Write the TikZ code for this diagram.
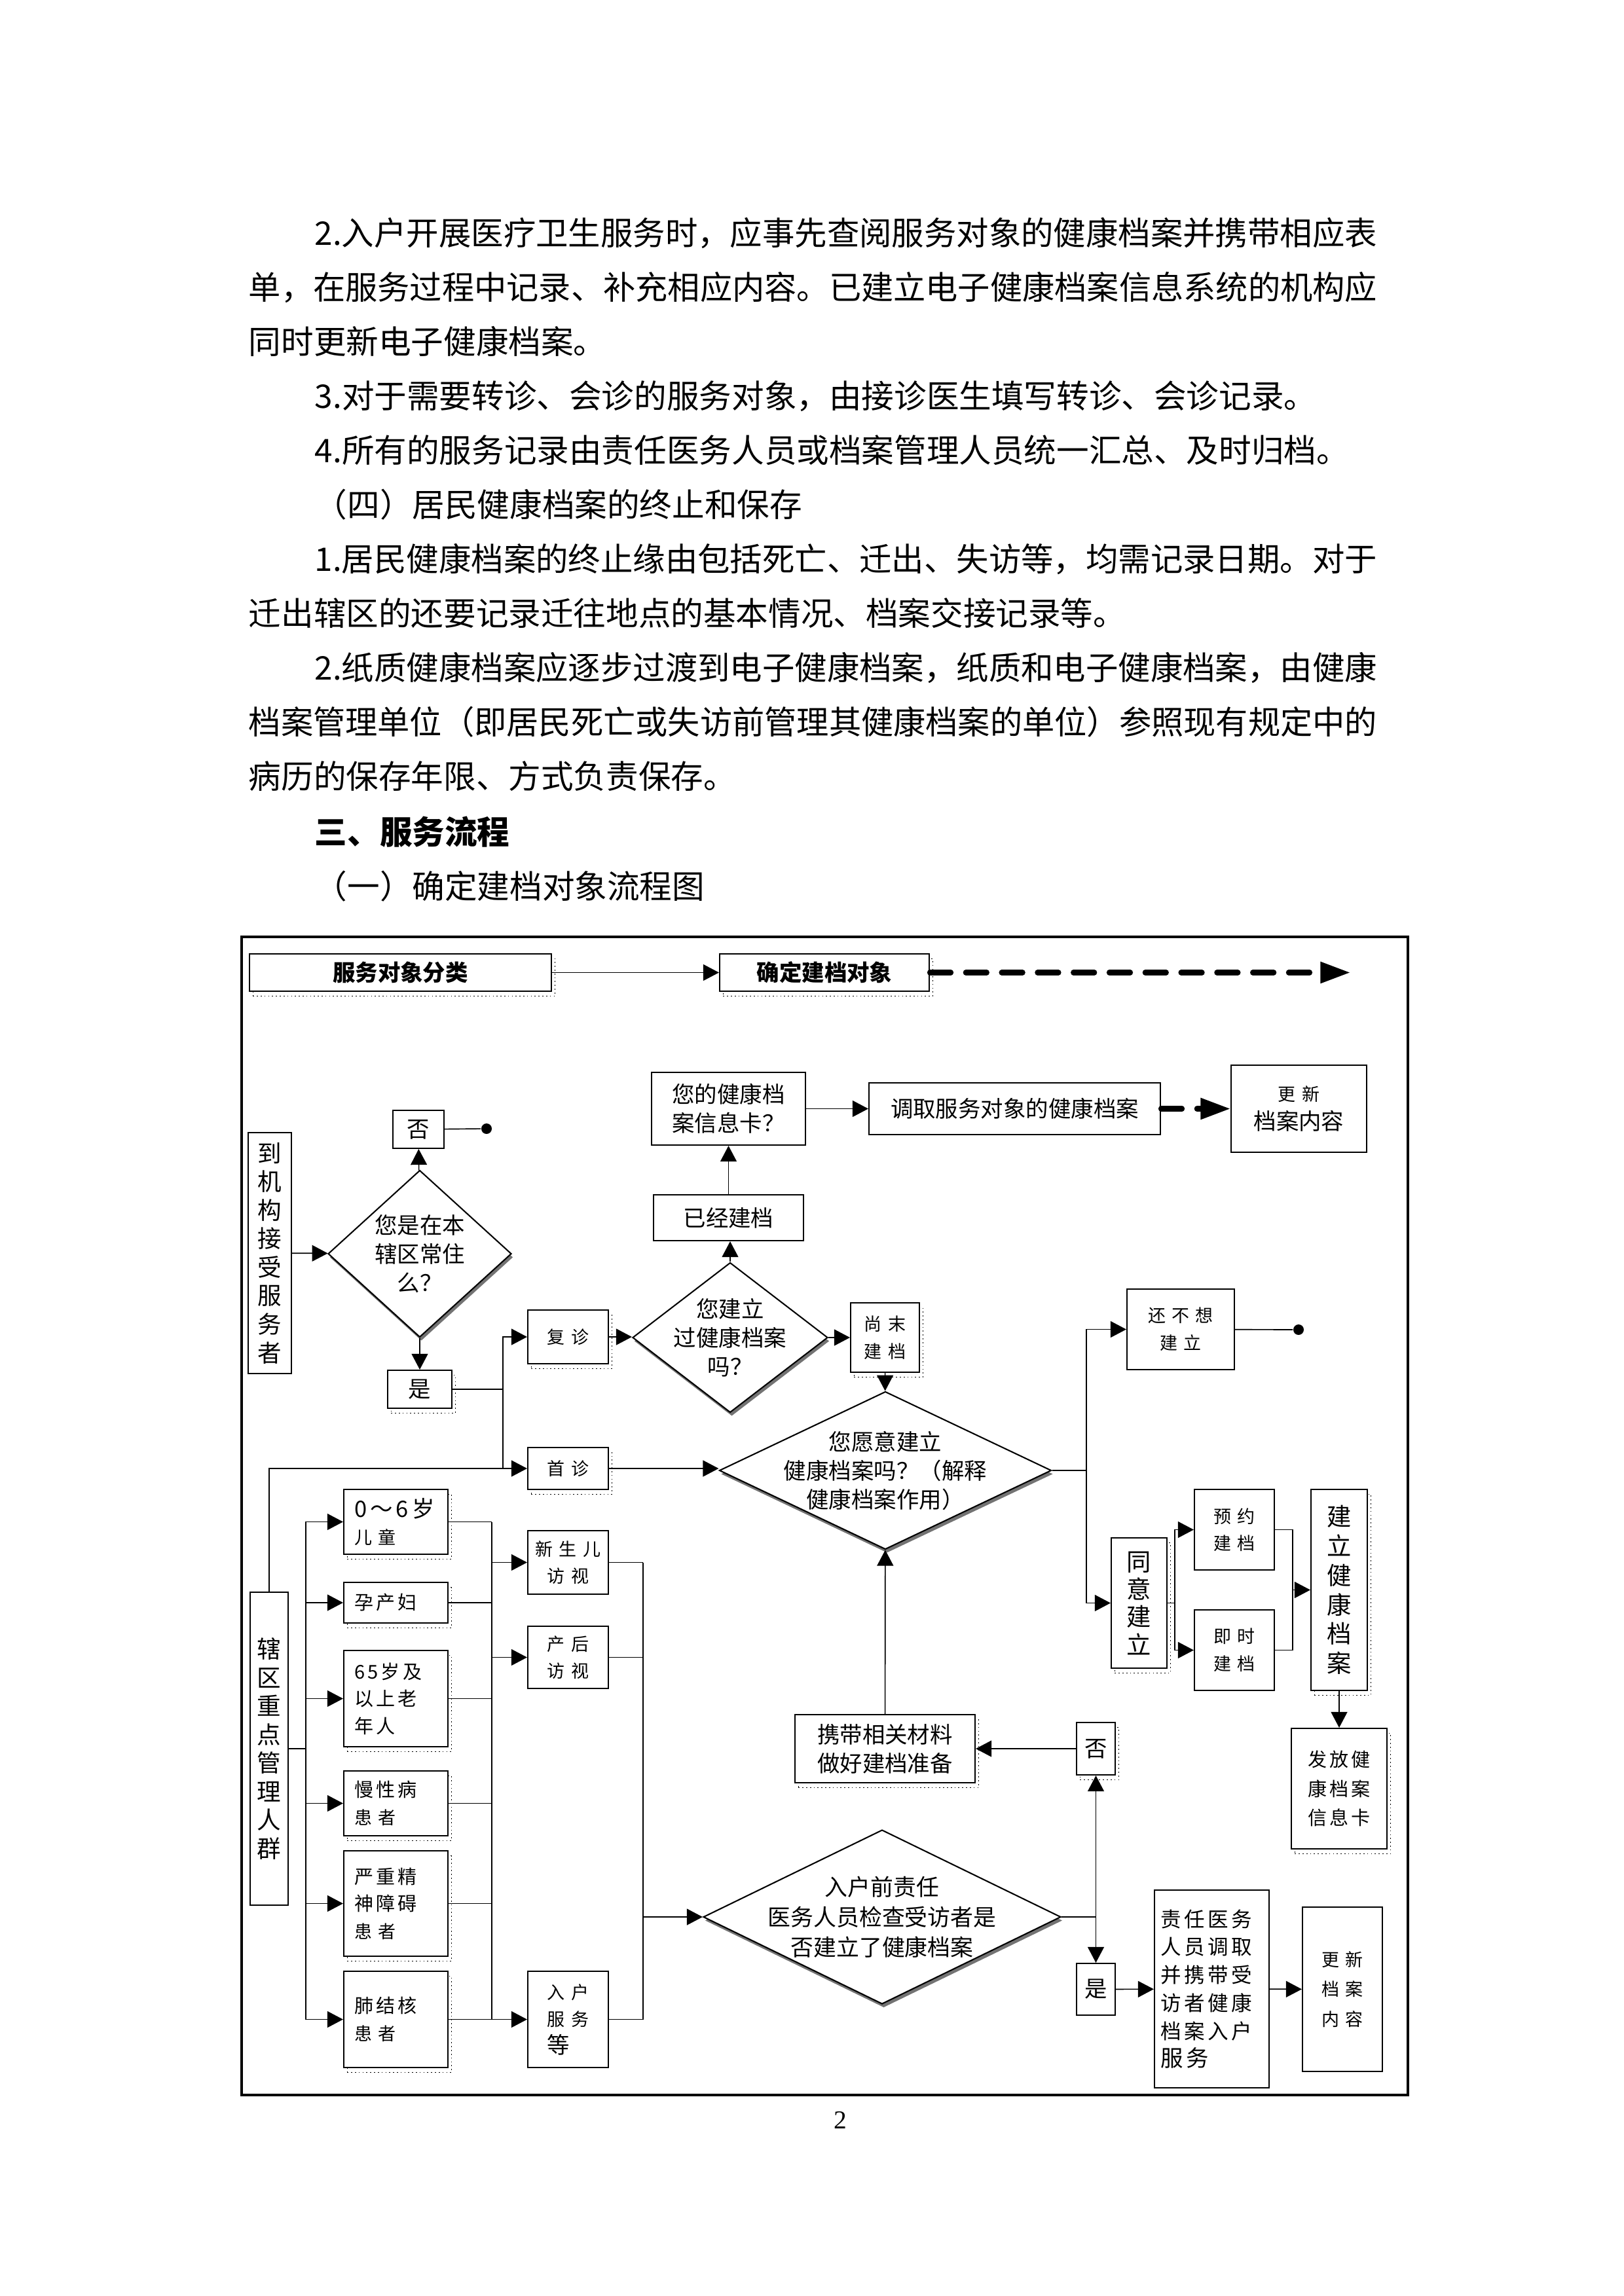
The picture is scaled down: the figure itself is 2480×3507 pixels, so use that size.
\documentclass[tikz,border=0pt]{standalone}
\usepackage{graphicx}
\usepackage{fontspec}
\setmainfont{Noto Sans CJK SC}
\newfontfamily\cjkwide[LetterSpace=35]{Noto Sans CJK SC}
\newfontfamily\cjkmid[LetterSpace=15]{Noto Sans CJK SC}
\newfontfamily\pagenum{Liberation Serif}
\usetikzlibrary{shapes.geometric, arrows.meta, shadows}
\newlength{\pxu}
\setlength{\pxu}{0.084677mm}
\newcommand\bodyfont{\fontsize{11.95pt}{12pt}\selectfont}
\newcommand\fsbig{\fontsize{8.3pt}{10.6pt}\selectfont}
\newcommand\fsvert{\fontsize{8.8pt}{10.5pt}\selectfont}
\newcommand\fssmall{\cjkwide\fontsize{6.5pt}{10pt}\selectfont}
\newcommand\fsmid{\cjkmid\fontsize{7pt}{10pt}\selectfont}
% justified line of given width in px
\newcommand\jline[2]{\resizebox{#1\pxu}{\height}{#2}}
\tikzset{
  wh/.style 2 args={minimum width=#1*\pxu, minimum height=#2*\pxu},
  box/.style={draw, fill=white, line width=0.5pt, inner sep=0pt,
    align=center, font=\fsbig},
  sbox/.style={box, drop shadow={shadow xshift=1.3pt, shadow yshift=-1.8pt,
    fill=none, draw=black, densely dotted, line width=0.4pt, opacity=1}},
  lbox/.style={sbox, font=\fsmid, align=left, text width=127*\pxu,
    inner xsep=16*\pxu, minimum height=#1*\pxu},
  dia/.style={diamond, draw, fill=white, line width=0.5pt, inner sep=0pt,
    drop shadow={shadow xshift=0.6pt, shadow yshift=-1.3pt,
    fill=black!55, opacity=1}},
  diatext/.style={align=center, font=\fsbig, inner sep=0pt},
  arr/.style={-{Triangle[length=5.8pt,width=6pt]}, line width=0.4pt},
  ln/.style={line width=0.4pt},
  fatarr/.style={-{Triangle[length=11pt,width=7.5pt]}, line width=2pt,
    line cap=round, dash pattern=on 7.7pt off 5.5pt},
  enddot/.style={circle, fill, inner sep=0pt, minimum size=16*\pxu},
  body/.style={anchor=base west, inner sep=0pt, font=\bodyfont},
}
\begin{document}
\begin{tikzpicture}[x=0.084677mm, y=-0.084677mm]
  \useasboundingbox (0,0) rectangle (2480,3507);

  % text above the chart
  \node[body] (p1) at (480,374) {\jline{1622}{2.入户开展医疗卫生服务时，应事先查阅服务对象的健康档案并携带相应表}};
  \node[body] (p2) at (379,457) {\jline{1723}{单，在服务过程中记录、补充相应内容。已建立电子健康档案信息系统的机构应}};
  \node[body] (p3) at (379,540) {同时更新电子健康档案。};
  \node[body] (p4) at (480,623) {3.对于需要转诊、会诊的服务对象，由接诊医生填写转诊、会诊记录。};
  \node[body] (p5) at (480,706) {4.所有的服务记录由责任医务人员或档案管理人员统一汇总、及时归档。};
  \node[body] (p6) at (480,789) {（四）居民健康档案的终止和保存};
  \node[body] (p7) at (480,872) {\jline{1622}{1.居民健康档案的终止缘由包括死亡、迁出、失访等，均需记录日期。对于}};
  \node[body] (p8) at (379,955) {迁出辖区的还要记录迁往地点的基本情况、档案交接记录等。};
  \node[body] (p9) at (480,1038) {\jline{1622}{2.纸质健康档案应逐步过渡到电子健康档案，纸质和电子健康档案，由健康}};
  \node[body] (p10) at (379,1121) {\jline{1723}{档案管理单位（即居民死亡或失访前管理其健康档案的单位）参照现有规定中的}};
  \node[body] (p11) at (379,1204) {病历的保存年限、方式负责保存。};
  \node[body] (p12) at (480,1289) {\textbf{三、服务流程}};
  \node[body] (p13) at (480,1372) {（一）确定建档对象流程图};

  % frame
  \draw[line width=0.8pt] (369,1431) rectangle (2150,3200);

  % top row
  \node[sbox, wh={461}{57}, font=\fsbig\bfseries] (classify) at (611.5,1485.5) {服务对象分类};
  \node[sbox, wh={320}{57}, font=\fsbig\bfseries] (target) at (1259,1485.5) {确定建档对象};
  \coordinate (topend) at (2062,1485.5);

  % upper part
  \node[box, wh={235}{111}] (cardq) at (1112.5,1693.5) {您的健康档\\案信息卡？};
  \node[box, wh={445}{79}] (fetch) at (1549.5,1693.5) {调取服务对象的健康档案};
  \node[box, wh={207}{133}] (update) at (1983.5,1693.5) {{\fssmall 更新}\\档案内容};
  \node[box, wh={78}{58}] (no1) at (639,1725) {否};
  \node[enddot] (dot1) at (743,1724) {};
  \node[box, wh={66}{368}, font=\fsvert] (arrive) at (412,1914) {到\\机\\构\\接\\受\\服\\务\\者};
  \node[dia, wh={280}{255}] (resq) at (641,1915) {};
  \node[diatext] (resq-t) at (resq) {您是在本\\辖区常住\\么？};
  \node[sbox, wh={98}{58}] (yes1) at (641,2122) {是};
  \node[sbox, wh={123}{82}, font=\fssmall] (fuzhen) at (867.5,2042) {复诊};
  \node[dia, wh={298}{229}] (everq) at (1115,2043) {};
  \node[diatext] (everq-t) at (everq) {您建立\\过健康档案\\吗？};
  \node[box, wh={229}{70}] (built) at (1112.5,1860) {已经建档};
  \node[sbox, wh={105}{106}, font=\fssmall] (notyet) at (1351.5,2043) {尚末\\建档};
  \node[dia, wh={507}{241}] (willq) at (1352,2246) {};
  \node[diatext] (willq-t) at (willq) {您愿意建立\\健康档案吗？（解释\\健康档案作用）};
  \node[box, wh={164}{123}, font=\fssmall] (notwant) at (1803,2030.5) {还不想\\建立};
  \node[enddot] (dot2) at (1983,2031) {};
  \node[sbox, wh={123}{64}, font=\fssmall] (shouzhen) at (867.5,2243) {首诊};

  % right part
  \node[sbox, wh={85}{199}, font=\fontsize{9pt}{10.2pt}\selectfont] (agree) at (1739.5,2448.5) {同\\意\\建\\立};
  \node[box, wh={122}{123}, font=\fssmall] (appoint) at (1885,2336.5) {预约\\建档};
  \node[box, wh={122}{123}, font=\fssmall] (instant) at (1885,2520.5) {即时\\建档};
  \node[sbox, wh={86}{307}, font=\fontsize{9pt}{10.8pt}\selectfont] (build) at (2045,2428.5) {建\\立\\健\\康\\档\\案};
  \node[sbox, wh={146}{184}, font=\cjkmid\fontsize{7pt}{10.8pt}\selectfont] (issue) at (2045,2732) {发放健\\康档案\\信息卡};

  % key groups
  \node[box, wh={58}{478}, font=\fsvert] (key) at (411,2671) {辖\\区\\重\\点\\管\\理\\人\\群};
  \node[lbox={99}] (kid) at (604.5,2324.5) {{\fsbig 0～6岁}\\{\fssmall 儿童}};
  \node[lbox={62}] (preg) at (604.5,2448) {孕产妇};
  \node[lbox={147}] (old) at (604.5,2594.5) {65岁及\\以上老\\年人};
  \node[lbox={99}] (chronic) at (604.5,2754.5) {慢性病\\{\fssmall 患者}};
  \node[lbox={161}] (mental) at (604.5,2907.5) {严重精\\神障碍\\{\fssmall 患者}};
  \node[lbox={147}] (tb) at (604.5,3084.5) {肺结核\\{\fssmall 患者}};
  \node[box, wh={123}{97}, font=\fssmall] (newborn) at (867.5,2386.5) {新生儿\\访视};
  \node[box, wh={123}{95}, font=\fssmall] (postnatal) at (867.5,2531.5) {产后\\访视};
  \node[box, wh={123}{147}, font=\fssmall, align=left] (homevisit) at (867.5,3084.5) {入户\\服务\\{\fsbig 等}};

  % home visit check
  \node[dia, wh={546}{266}] (checkq) at (1347,2928) {};
  \node[diatext, font=\fontsize{8.4pt}{11pt}\selectfont] (checkq-t) at (checkq) {入户前责任\\医务人员检查受访者是\\否建立了健康档案};
  \node[sbox, wh={59}{80}] (no2) at (1673.5,2671) {否};
  \node[box, wh={59}{79}] (yes2) at (1673.5,3038.5) {是};
  \node[sbox, wh={275}{104}] (carry) at (1351.5,2671) {携带相关材料\\做好建档准备};
  \node[box, wh={175}{302}, align=left, text width=157*\pxu, inner xsep=9*\pxu,
    font=\cjkmid\fontsize{7.6pt}{10.3pt}\selectfont] (doctor) at (1850.5,3038)
    {责任医务\\人员调取\\并携带受\\访者健康\\档案入户\\{\fsbig 服务}};
  \node[box, wh={122}{251}, font=\fontsize{6.5pt}{11pt}\cjkwide\selectfont, align=left] (update2) at (2050,3038.5) {更新\\档案\\内容};

  % connectors, top
  \draw[arr] (classify) -- (target);
  \draw[fatarr] (target) -- (topend);
  \draw[arr] (cardq) -- (fetch);
  \draw[fatarr] (fetch) -- (update);

  % connectors, arrival
  \draw[arr] (arrive) -- (resq);
  \draw[arr] (resq) -- (no1);
  \draw[ln] (no1) -- (dot1);
  \draw[arr] (resq) -- (yes1);
  \coordinate (busA) at (768,2122);
  \draw[ln] (yes1) -- (busA);
  \draw[arr] (busA) |- (fuzhen);
  \draw[ln] (busA) -- (busA |- shouzhen.west);
  \draw[arr] (key) |- (shouzhen);
  \draw[arr] (fuzhen.east) -- (fuzhen.east -| everq.west);
  \draw[arr] (everq.north) -- (everq.north |- built.south);
  \draw[arr] (built) -- (cardq);
  \draw[arr] (everq.east) -- (everq.east -| notyet.west);
  \draw[arr] (notyet) -- (willq);
  \draw[arr] (shouzhen.east) -- (shouzhen.east -| willq.west);

  % connectors, decision to build
  \coordinate (busB) at (1659,2246);
  \draw[ln] (willq) -- (busB);
  \draw[arr] (busB) |- (notwant);
  \draw[arr] (busB) |- (agree);
  \draw[ln] (notwant) -- (dot2);
  \coordinate (split) at (1794,2448.5);
  \draw[ln] (agree) -- (split);
  \draw[arr] (split) |- (appoint);
  \draw[arr] (split) |- (instant);
  \coordinate (join) at (1974,2428.5);
  \draw[ln] (appoint.east) -| (join);
  \draw[ln] (instant.east) -| (join);
  \draw[arr] (join) -- (build);
  \draw[arr] (build) -- (issue);

  % connectors, key groups
  \coordinate (trunk) at (467,2671);
  \draw[ln] (key) -- (trunk);
  \foreach \grp in {kid,preg,old,chronic,mental,tb}
    \draw[arr] (trunk) |- (\grp);
  \coordinate (colA) at (751,2400);
  \foreach \grp in {kid,preg,old,chronic,mental,tb}
    \draw[ln] (\grp.east) -- (\grp.east -| colA);
  \draw[ln] (kid.east -| colA) -- (tb.east -| colA);
  \foreach \visit in {newborn,postnatal,homevisit}
    \draw[arr] (\visit.west -| colA) -- (\visit);
  \coordinate (colB) at (982,2400);
  \foreach \visit in {newborn,postnatal,homevisit}
    \draw[ln] (\visit.east) -- (\visit.east -| colB);
  \draw[ln] (newborn.east -| colB) -- (homevisit.east -| colB);
  \draw[arr] (checkq.west -| colB) -- (checkq);

  % connectors, home visit
  \coordinate (busC) at (1673.5,2928);
  \draw[ln] (checkq) -- (busC);
  \draw[arr] (busC) -- (no2);
  \draw[arr] (busC) -- (yes2);
  \draw[arr] (no2) -- (carry);
  \draw[arr] (carry) -- (willq);
  \draw[arr] (yes2) -- (doctor);
  \draw[arr] (doctor) -- (update2);

  \node[font=\pagenum\fontsize{9.5pt}{11pt}\selectfont] (pgno) at (1283,3238) {2};
\end{tikzpicture}
\end{document}
